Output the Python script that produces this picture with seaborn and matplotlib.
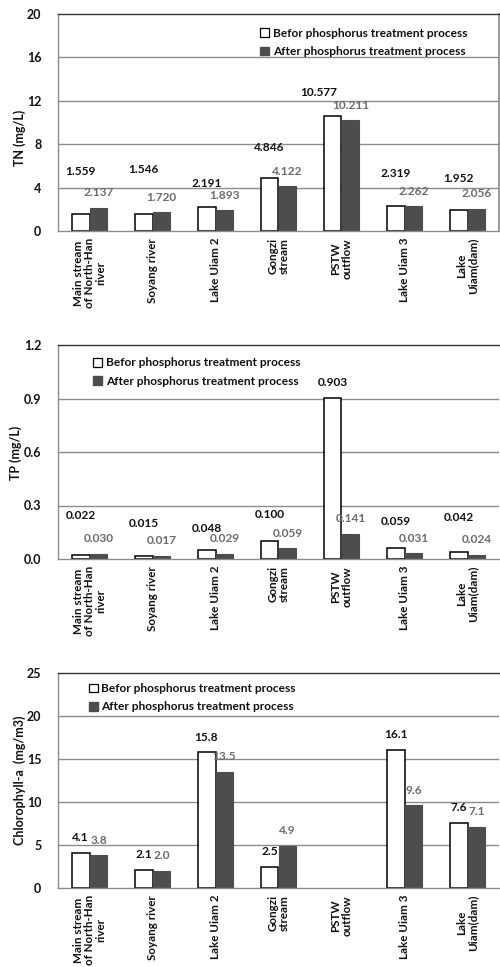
import numpy as np
import pandas as pd
import matplotlib
matplotlib.use("Agg")
import matplotlib.pyplot as plt
import seaborn as sns
from matplotlib.patches import Patch

sns.set_theme(style="white")
plt.rcParams['font.family'] = ['Lato', 'DejaVu Sans']
plt.rcParams['font.weight'] = 'bold'

sites = ["Main stream\nof North-Han\nriver", "Soyang river", "Lake Uiam 2",
         "Gongzi\nstream", "PSTW\noutflow", "Lake Uiam 3", "Lake\nUiam(dam)"]
phases = ["Befor phosphorus treatment process", "After phosphorus treatment process"]

tn_before = [1.559, 1.546, 2.191, 4.846, 10.577, 2.319, 1.952]
tn_after = [2.137, 1.720, 1.893, 4.122, 10.211, 2.262, 2.056]
tp_before = [0.022, 0.015, 0.048, 0.100, 0.903, 0.059, 0.042]
tp_after = [0.030, 0.017, 0.029, 0.059, 0.141, 0.031, 0.024]
chl_before = [4.1, 2.1, 15.8, 2.5, np.nan, 16.1, 7.6]
chl_after = [3.8, 2.0, 13.5, 4.9, np.nan, 9.6, 7.1]

tn_ticks = [0, 4, 8, 12, 16, 20]
tp_ticks = [0.0, 0.3, 0.6, 0.9, 1.2]
chl_ticks = [0, 5, 10, 15, 20, 25]

# label offsets (pixels) for the 'before' value labels
tn_before_dy = [43, 45, 24, 31, 24, 32, 31]
tn_before_dx = [0, 0, 0, 0, -14, 0, 0]
tp_before_dy = [40, 33, 22, 27, 15, 27, 34]
chl_before_dy = [15] * 7

FILL_AFTER = "#4d4d4d"
TXT_AFTER = "#6b6b6b"
GRID = "#8c8c8c"
VAL_FS = 8.6
TICK_FS = 9.0
XT_FS = 8.4
LEG_FS = 8.6
YL_FS = 9.0

W, H = 500, 967
fig = plt.figure(figsize=(W / 100, H / 100), dpi=100)


def px_axes(top, bottom, left=58, right=499):
    return fig.add_axes([left / W, (H - bottom) / H, (right - left) / W, (bottom - top) / H])


panels = [
    dict(ax=px_axes(14, 231), b=tn_before, a=tn_after, ticks=tn_ticks, fmt="{:.3f}",
         tfmt="{:.0f}", ylabel="TN (mg/L)", bdy=tn_before_dy, bdx=tn_before_dx,
         leg=(0.445, 0.963), ylab=(-0.072, 0.43), right=True),
    dict(ax=px_axes(345, 559), b=tp_before, a=tp_after, ticks=tp_ticks, fmt="{:.3f}",
         tfmt="{:.1f}", ylabel="TP (mg/L)", bdy=tp_before_dy, bdx=[0] * 7,
         leg=(0.066, 0.97), ylab=(-0.082, 0.495), right=False),
    dict(ax=px_axes(673, 888), b=chl_before, a=chl_after, ticks=chl_ticks, fmt="{:.1f}",
         tfmt="{:.0f}", ylabel="Chlorophyll-a  (mg/m3)", bdy=chl_before_dy, bdx=[0] * 7,
         leg=(0.056, 0.98), ylab=(-0.073, 0.50), right=False),
]

for p in panels:
    ax = p["ax"]
    df = pd.DataFrame({
        "site": sites * 2,
        "phase": [phases[0]] * len(sites) + [phases[1]] * len(sites),
        "value": list(p["b"]) + list(p["a"]),
    })
    sns.barplot(data=df, x="site", y="value", hue="phase", order=sites, hue_order=phases,
                palette=["white", FILL_AFTER], width=0.57, ax=ax, legend=False,
                saturation=1, errorbar=None)
    conts = ax.containers
    for bar in conts[0]:
        bar.set_edgecolor("black")
        bar.set_linewidth(1.1)
    for bar in conts[1]:
        bar.set_edgecolor(FILL_AFTER)
        bar.set_linewidth(0.8)

    # value labels
    bvals = [(i, v) for i, v in enumerate(p["b"]) if not np.isnan(v)]
    avals = [(i, v) for i, v in enumerate(p["a"]) if not np.isnan(v)]
    for bar, (i, v) in zip(conts[0], bvals):
        ax.annotate(p["fmt"].format(v), (bar.get_x() + bar.get_width() / 2, bar.get_height()),
                    xytext=(p["bdx"][i], p["bdy"][i]), textcoords="offset pixels",
                    ha="center", va="center", fontsize=VAL_FS, fontweight="bold", color="#111111")
    for bar, (i, v) in zip(conts[1], avals):
        ax.annotate(p["fmt"].format(v), (bar.get_x() + bar.get_width() / 2, bar.get_height()),
                    xytext=(0, 15), textcoords="offset pixels",
                    ha="center", va="center", fontsize=VAL_FS, fontweight="bold", color=TXT_AFTER)

    ax.set_ylim(p["ticks"][0], p["ticks"][-1])
    ax.set_xlim(-0.5, len(sites) - 0.5)
    ax.set_yticks(p["ticks"])
    ax.set_yticklabels([p["tfmt"].format(t) for t in p["ticks"]], fontsize=TICK_FS,
                       fontweight="bold", color="#111111")
    for t in p["ticks"][1:-1]:
        ax.axhline(t, color=GRID, lw=1.0, zorder=0)
    ax.tick_params(axis="y", length=0, pad=12)

    ax.set_xticks(range(len(sites)))
    ax.set_xticklabels(sites, rotation=90, fontsize=XT_FS, fontweight="bold", color="#111111",
                       ha="center", va="top", multialignment="center", linespacing=1.05)
    ax.tick_params(axis="x", which="major", length=0, pad=5)
    ax.set_xticks(np.arange(-0.5, len(sites) + 0.5, 1.0), minor=True)
    ax.tick_params(axis="x", which="minor", length=5, width=1, color=GRID, direction="out")

    ax.set_xlabel("")
    ax.set_ylabel(p["ylabel"], fontsize=YL_FS, fontweight="bold", color="#111111")
    ax.yaxis.set_label_coords(*p["ylab"])

    for s in ["left", "bottom"]:
        ax.spines[s].set_color(GRID)
        ax.spines[s].set_linewidth(1.0)
    ax.spines["top"].set_color("#333333")
    ax.spines["top"].set_linewidth(1.0)
    ax.spines["right"].set_visible(p["right"])
    ax.spines["right"].set_color(GRID)

    handles = [Patch(facecolor="white", edgecolor="black", linewidth=0.9),
               Patch(facecolor=FILL_AFTER, edgecolor=FILL_AFTER)]
    ax.legend(handles, phases, loc="upper left", bbox_to_anchor=p["leg"], frameon=False,
              borderpad=0, handlelength=0.75, handleheight=0.75, handletextpad=0.3,
              labelspacing=0.6, prop=dict(size=LEG_FS, weight="bold"), labelcolor="#111111")

fig.savefig("out.png", dpi=100, facecolor="white")
